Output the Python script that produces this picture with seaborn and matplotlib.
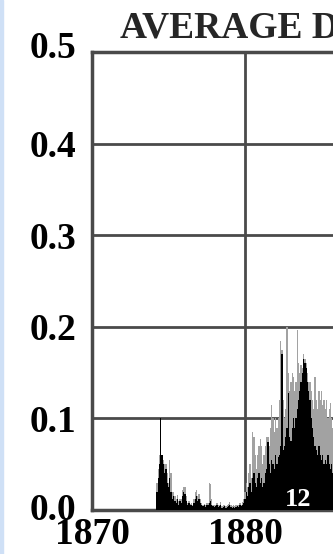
import numpy as np
import pandas as pd
import seaborn as sns
import matplotlib
matplotlib.use("Agg")
import matplotlib.pyplot as plt
import matplotlib.transforms as mtransforms
from matplotlib.patches import Rectangle

# ---- data (monthly, starting 1874.25) ----
start_year = 1874.25
black_vals = [
    0.02, 0.035, 0.05, 0.10, 0.06, 0.05, 0.04, 0.045, 0.03, 0.025, 0.035, 0.02,
    0.012, 0.015, 0.01, 0.008, 0.012, 0.006, 0.01, 0.008, 0.015, 0.02, 0.018, 0.01,
    0.006, 0.008, 0.005, 0.006, 0.004, 0.008, 0.012, 0.015, 0.01, 0.012, 0.008, 0.006,
    0.004, 0.005, 0.003, 0.006, 0.005, 0.008, 0.01, 0.006, 0.004, 0.003, 0.004, 0.006,
    0.003, 0.004, 0.006, 0.002, 0.003, 0.004, 0.002, 0.003, 0.004, 0.006, 0.003, 0.002,
    0.003, 0.002, 0.003, 0.004, 0.003, 0.005, 0.004, 0.006, 0.008, 0.012, 0.02, 0.015,
    0.025, 0.03, 0.02, 0.035, 0.04, 0.03, 0.025, 0.035, 0.04, 0.03, 0.035, 0.025,
    0.03, 0.04, 0.045, 0.074, 0.05, 0.04, 0.055, 0.05, 0.045, 0.06, 0.05, 0.058,
    0.06, 0.07, 0.17, 0.065, 0.07, 0.08, 0.09, 0.128, 0.08, 0.075, 0.09, 0.1,
    0.09, 0.1, 0.11, 0.12, 0.13, 0.14, 0.15, 0.165, 0.16, 0.155, 0.14, 0.13,
    0.12, 0.1, 0.09, 0.08, 0.07, 0.065, 0.06, 0.07, 0.06, 0.055, 0.06, 0.05,
    0.055, 0.05, 0.06, 0.05, 0.045, 0.05, 0.04,
]
gray_vals = [
    0.03, 0.045, 0.06, 0.10, 0.06, 0.055, 0.05, 0.05, 0.04, 0.03, 0.055, 0.04,
    0.02, 0.02, 0.015, 0.012, 0.016, 0.01, 0.012, 0.012, 0.022, 0.025, 0.025, 0.015,
    0.008, 0.01, 0.007, 0.008, 0.006, 0.012, 0.02, 0.022, 0.015, 0.018, 0.012, 0.008,
    0.006, 0.007, 0.005, 0.008, 0.008, 0.03, 0.028, 0.012, 0.006, 0.005, 0.006, 0.008,
    0.005, 0.006, 0.009, 0.004, 0.005, 0.006, 0.004, 0.005, 0.007, 0.009, 0.005, 0.004,
    0.005, 0.004, 0.005, 0.006, 0.005, 0.008, 0.006, 0.009, 0.012, 0.02, 0.03, 0.025,
    0.04, 0.05, 0.035, 0.085, 0.08, 0.06, 0.045, 0.06, 0.07, 0.078, 0.07, 0.05,
    0.06, 0.07, 0.08, 0.08, 0.07, 0.09, 0.115, 0.1, 0.085, 0.1, 0.09, 0.1,
    0.12, 0.185, 0.175, 0.12, 0.1, 0.11, 0.2, 0.15, 0.13, 0.14, 0.15, 0.145,
    0.13, 0.14, 0.197, 0.16, 0.15, 0.158, 0.155, 0.17, 0.165, 0.16, 0.15, 0.14,
    0.14, 0.13, 0.12, 0.11, 0.145, 0.12, 0.11, 0.13, 0.12, 0.13, 0.115, 0.12,
    0.11, 0.12, 0.1, 0.11, 0.117, 0.1, 0.09,
]
years = [round(start_year + i / 12.0, 4) for i in range(len(black_vals))]

y_ticks = [0.0, 0.1, 0.2, 0.3, 0.4, 0.5]
y_labels = ["0.0", "0.1", "0.2", "0.3", "0.4", "0.5"]
x_ticks = [1870, 1880, 1890]
x_labels = ["1870", "1880", "1890"]
title = "AVERAGE DAILY SUNSPOT AREA"
cycle_label = "12"

df = pd.DataFrame({"year": years, "black": black_vals, "gray": gray_vals})

# ---- figure ----
sns.set_style("white")
plt.rcParams["font.family"] = ["Liberation Serif", "DejaVu Serif"]
plt.rcParams["font.weight"] = "bold"

W, H = 333, 554
fig = plt.figure(figsize=(W / 100, H / 100), dpi=100)
left_px, right_px, top_px, bottom_px = 92, 92 + 20 * 15.3, 52, 510
ax = fig.add_axes([left_px / W, 1 - bottom_px / H,
                   (right_px - left_px) / W, (bottom_px - top_px) / H])

grid_c = "#4a4a4a"
sns.barplot(data=df, x="year", y="gray", native_scale=True, errorbar=None,
            color="#a2a2a2", saturation=1, width=1.0, linewidth=0, ax=ax, zorder=2)
sns.barplot(data=df, x="year", y="black", native_scale=True, errorbar=None,
            color="#000000", saturation=1, width=1.0, linewidth=0, ax=ax, zorder=3)

ax.set_xlim(1870, 1890)
ax.set_ylim(0, 0.5)
ax.set_xticks(x_ticks)
ax.set_xticklabels(x_labels)
ax.set_yticks(y_ticks)
ax.set_yticklabels(y_labels)
ax.set_xlabel("")
ax.set_ylabel("")
ax.grid(True, color=grid_c, linewidth=2.0, zorder=1)
ax.set_axisbelow(True)
for s in ax.spines.values():
    s.set_color(grid_c)
    s.set_linewidth(2.5)
ax.tick_params(axis="both", length=0, labelsize=27, colors="black")
ax.tick_params(axis="y", pad=11)
ax.tick_params(axis="x", pad=5)
for lab in ax.get_xticklabels() + ax.get_yticklabels():
    lab.set_fontweight("bold")

# shift top and bottom y labels upward as in reference
ylabs = ax.get_yticklabels()
off_top = mtransforms.ScaledTranslation(0, 8 / 100, fig.dpi_scale_trans)
ylabs[-1].set_transform(ylabs[-1].get_transform() + off_top)
off_bot = mtransforms.ScaledTranslation(0, 4 / 100, fig.dpi_scale_trans)
ylabs[0].set_transform(ylabs[0].get_transform() + off_bot)

ax.text(1883.46, 0.011, cycle_label, color="white", fontsize=19,
        fontweight="bold", ha="center", va="center", zorder=5)

fig.text(120 / W, 1 - 38 / H, title, fontsize=27, fontweight="bold",
         ha="left", va="baseline")

fig.patches.append(Rectangle((0, 0), 3 / W, 1, transform=fig.transFigure,
                             color="#cfe0f6", zorder=0))

fig.savefig("out.png", dpi=100)
